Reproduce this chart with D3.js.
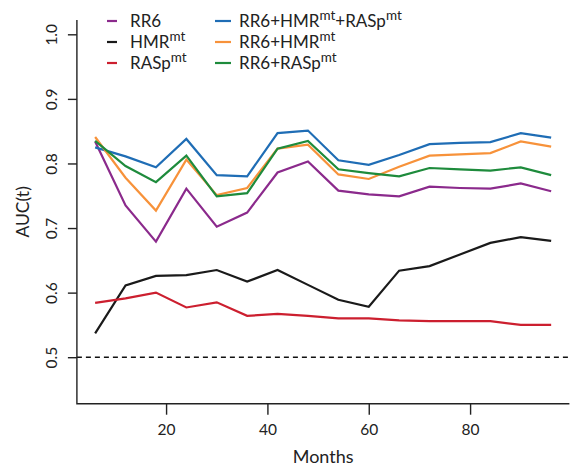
<!DOCTYPE html>
<html><head><meta charset="utf-8">
<script src="https://cdn.jsdelivr.net/npm/d3@7"></script>
<style>
body{margin:0;background:#fff;}
svg{display:block;font-family:Lato,"Open Sans",sans-serif;}
</style></head>
<body><svg id="c" width="571" height="466"></svg>
<script>
const months = [6,12,18,24,30,36,42,48,54,60,66,72,78,84,90,96];
const rr6      = [0.834,0.735,0.679,0.761,0.702,0.724,0.786,0.803,0.758,0.752,0.749,0.764,0.762,0.761,0.769,0.757];
const hmr      = [0.537,0.611,0.626,0.627,0.635,0.617,0.635,0.612,0.589,0.578,0.634,0.641,0.659,0.677,0.686,0.680];
const rasp     = [0.584,0.591,0.600,0.577,0.585,0.564,0.567,0.564,0.560,0.560,0.557,0.556,0.556,0.556,0.550,0.550];
const rr6HmrRasp = [0.825,0.811,0.794,0.838,0.782,0.780,0.847,0.851,0.805,0.798,0.813,0.830,0.832,0.833,0.847,0.840];
const rr6Hmr   = [0.841,0.778,0.727,0.806,0.751,0.762,0.823,0.829,0.783,0.776,0.795,0.812,0.814,0.816,0.834,0.826];
const rr6Rasp  = [0.835,0.796,0.771,0.812,0.749,0.754,0.823,0.835,0.791,0.785,0.780,0.793,0.791,0.789,0.794,0.782];
const xTicks = [20,40,60,80];
const yTicks = [0.5,0.6,0.7,0.8,0.9,1.0];

const series = [
  {name:"RR6", sup:"", vals:rr6, color:"#8B2A8C", col:0, row:0},
  {name:"HMR", sup:"mt", vals:hmr, color:"#1a1a1a", col:0, row:1},
  {name:"RASp", sup:"mt", vals:rasp, color:"#CC1F2F", col:0, row:2},
  {name:"RR6+HMR", sup:"mt", tail:"+RASp", tailSup:"mt", vals:rr6HmrRasp, color:"#1F6DB5", col:1, row:0},
  {name:"RR6+HMR", sup:"mt", vals:rr6Hmr, color:"#F7923A", col:1, row:1},
  {name:"RR6+RASp", sup:"mt", vals:rr6Rasp, color:"#1E8B3C", col:1, row:2}
];

const svg = d3.select("#c");
const x = d3.scaleLinear().domain([2.4, 99.6]).range([76.9, 569.4]);
const y = d3.scaleLinear().domain([0.428, 1.022]).range([403.7, 20.1]);

// dashed reference line
svg.append("line").attr("x1",x(2.4)).attr("x2",x(99.6)).attr("y1",y(0.5)).attr("y2",y(0.5))
  .attr("stroke","#111").attr("stroke-width",1.4).attr("stroke-dasharray","5,4");

// L box
svg.append("path").attr("d",`M${x(2.4)},${y(1.022)}V${y(0.428)}H${x(99.6)}`)
  .attr("fill","none").attr("stroke","#222").attr("stroke-width",1.4);

// axes
const xa = svg.append("g").attr("transform",`translate(0,${y(0.428)})`)
  .call(d3.axisBottom(x).tickValues(xTicks).tickSize(11).tickPadding(5).tickFormat(d3.format("d")));
const ya = svg.append("g").attr("transform",`translate(${x(2.4)},0)`)
  .call(d3.axisLeft(y).tickValues(yTicks).tickSize(9).tickFormat(d3.format(".1f")));
[xa,ya].forEach(g=>{
  g.select(".domain").remove();
  g.selectAll("line").attr("stroke","#222").attr("stroke-width",1.4);
  g.selectAll("text").attr("fill","#222").style("font-size","15.5px").style("font-family","Lato,sans-serif");
});
xa.selectAll("text").attr("y",null).attr("dy",null).attr("transform","translate(0,31)");
ya.selectAll("text").attr("x",null).attr("dy",null).attr("text-anchor","middle")
  .attr("transform","translate(-19.5,0) rotate(-90)");

// axis titles
svg.append("text").attr("x",(x(2.4)+x(99.6))/2).attr("y",463).attr("text-anchor","middle")
  .style("font-size","18px").attr("fill","#222").text("Months");
svg.append("text").attr("transform",`translate(28.5,${(y(0.428)+y(1.022))/2}) rotate(-90)`)
  .attr("text-anchor","middle").style("font-size","17.5px").attr("fill","#222").text("AUC(t)");

// lines
const line = d3.line().x((d,i)=>x(months[i])).y(d=>y(d));
series.forEach(s=>{
  svg.append("path").datum(s.vals).attr("d",line).attr("fill","none")
    .attr("stroke",s.color).attr("stroke-width",2.2).attr("stroke-linejoin","miter");
});

// legend
const colLine = [[107,117],[215,231]];
const colText = [130,239];
const rowY = [21,42,63];
series.forEach(s=>{
  const yy = rowY[s.row];
  svg.append("line").attr("x1",colLine[s.col][0]).attr("x2",colLine[s.col][1])
    .attr("y1",yy).attr("y2",yy).attr("stroke",s.color).attr("stroke-width",2.2);
  const t = svg.append("text").attr("x",colText[s.col]).attr("y",yy+6)
    .style("font-size","17px").attr("fill","#222");
  t.append("tspan").text(s.name);
  if(s.sup) t.append("tspan").attr("dy",-7).style("font-size","13.5px").text(s.sup);
  if(s.tail){
    t.append("tspan").attr("dy",7).text(s.tail);
    t.append("tspan").attr("dy",-7).style("font-size","13.5px").text(s.tailSup);
  }
});
</script></body></html>
